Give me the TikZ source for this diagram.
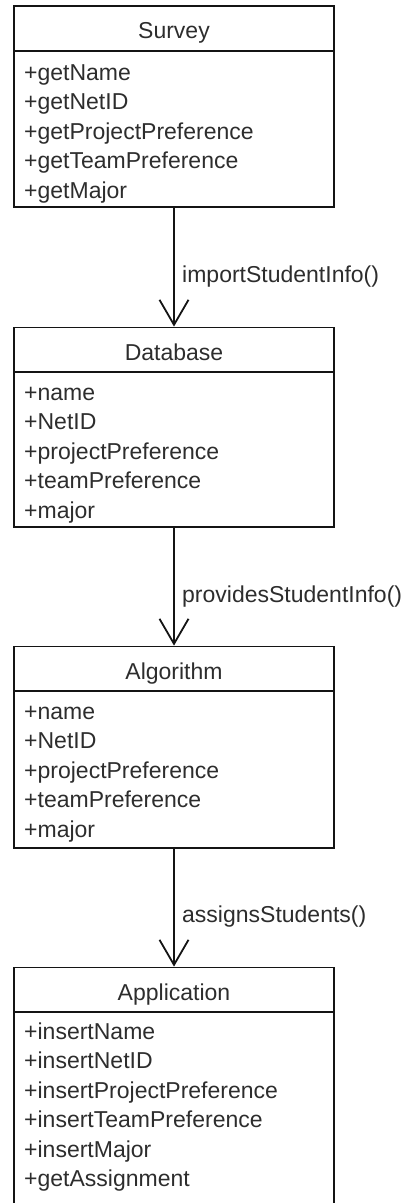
\documentclass[tikz,border=0pt]{standalone}
\usepackage{fontspec}
\setmainfont{Liberation Sans}
\usetikzlibrary{arrows.meta}
\definecolor{txt}{RGB}{45,45,45}
\definecolor{ln}{RGB}{20,20,20}
\tikzset{
  x=1pt, y=-1pt,
  hdr/.style={draw=ln, line width=1.8pt, minimum width=320pt, minimum height=45pt, inner sep=0pt, text=txt,
    text height=20pt, text depth=0pt, font=\fontsize{23}{27}\selectfont},
  bodybox/.style={draw=ln, line width=1.8pt, minimum width=320pt, inner sep=0pt},
  row/.style={anchor=base west, inner sep=0pt, text=txt, font=\fontsize{23}{27}\selectfont},
  lbl/.style={anchor=base west, inner sep=0pt, text=txt, font=\fontsize{23}{27}\selectfont},
  conn/.style={draw=ln, line width=1.8pt, -{Straight Barb[length=25pt,width=29pt,line width=1.8pt]}},
}
\begin{document}
\begin{tikzpicture}
\useasboundingbox (0,0) rectangle (412,1203);
\clip (0,0) rectangle (412,1203);
% Survey
\node[hdr] (survey) at (174,28.5) {Survey};
\node[bodybox, minimum height=156pt] (surveyb) at (174,129) {};
\node[row] (s1) at (24,80) {+getName};
\node[row] (s2) at (24,109.5) {+getNetID};
\node[row] (s3) at (24,139) {+getProjectPreference};
\node[row] (s4) at (24,168.5) {+getTeamPreference};
\node[row] (s5) at (24,198) {+getMajor};
% Database
\node[hdr] (db) at (174,350) {Database};
\node[bodybox, minimum height=155pt] (dbb) at (174,449.5) {};
\node[row] (d1) at (24,400) {+name};
\node[row] (d2) at (24,429.5) {+NetID};
\node[row] (d3) at (24,459) {+projectPreference};
\node[row] (d4) at (24,488.5) {+teamPreference};
\node[row] (d5) at (24,518) {+major};
% Algorithm
\node[hdr] (alg) at (174,669) {Algorithm};
\node[bodybox, minimum height=157pt] (algb) at (174,769.5) {};
\node[row] (a1) at (24,719) {+name};
\node[row] (a2) at (24,748.5) {+NetID};
\node[row] (a3) at (24,778) {+projectPreference};
\node[row] (a4) at (24,807.5) {+teamPreference};
\node[row] (a5) at (24,837) {+major};
% Application
\node[hdr] (app) at (174,990) {Application};
\node[bodybox, minimum height=208pt] (appb) at (174,1116) {};
\node[row] (p1) at (24,1039) {+insertName};
\node[row] (p2) at (24,1068.5) {+insertNetID};
\node[row] (p3) at (24,1098) {+insertProjectPreference};
\node[row] (p4) at (24,1127.5) {+insertTeamPreference};
\node[row] (p5) at (24,1157) {+insertMajor};
\node[row] (p6) at (24,1186.5) {+getAssignment};
% connectors
\draw[conn] (surveyb.south) -- (db.north);
\draw[conn] (dbb.south) -- (alg.north);
\draw[conn] (algb.south) -- (app.north);
\node[lbl] (l1) at (182,282) {importStudentInfo()};
\node[lbl] (l2) at (182,602) {providesStudentInfo()};
\node[lbl] (l3) at (182,922) {assignsStudents()};
\end{tikzpicture}
\end{document}
